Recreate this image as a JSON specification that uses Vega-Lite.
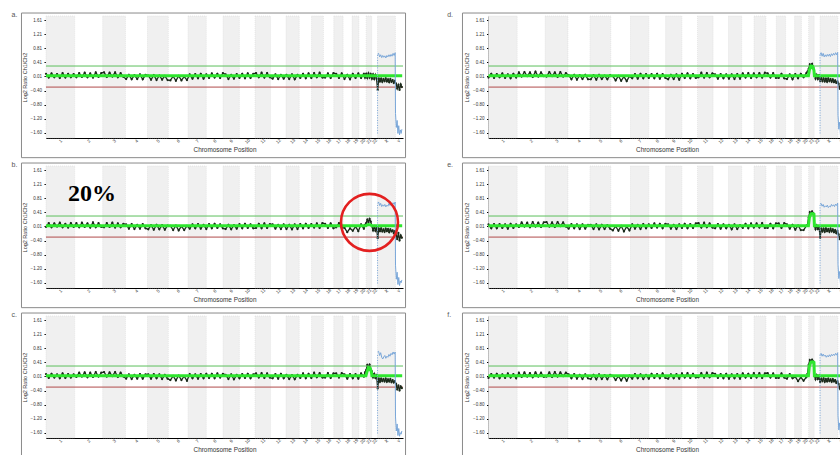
{
"$schema":"https://vega.github.io/schema/vega-lite/v6.json",
"padding":{"left":11,"top":11,"right":0,"bottom":0},
"bounds":"flush",
"columns":2,
"spacing":{"row":28,"column":85.5},
"datasets":{
"chroms":[{"c":"1","s":0,"e":249,"g":1},{"c":"2","s":249,"e":492,"g":0},{"c":"3","s":492,"e":690,"g":1},{"c":"4","s":690,"e":881,"g":0},{"c":"5","s":881,"e":1062,"g":1},{"c":"6","s":1062,"e":1233,"g":0},{"c":"7","s":1233,"e":1392,"g":1},{"c":"8","s":1392,"e":1538,"g":0},{"c":"9","s":1538,"e":1679,"g":1},{"c":"10","s":1679,"e":1815,"g":0},{"c":"11","s":1815,"e":1950,"g":1},{"c":"12","s":1950,"e":2084,"g":0},{"c":"13","s":2084,"e":2199,"g":1},{"c":"14","s":2199,"e":2306,"g":0},{"c":"15","s":2306,"e":2409,"g":1},{"c":"16","s":2409,"e":2499,"g":0},{"c":"17","s":2499,"e":2580,"g":1},{"c":"18","s":2580,"e":2658,"g":0},{"c":"19","s":2658,"e":2717,"g":1},{"c":"20","s":2717,"e":2780,"g":0},{"c":"21","s":2780,"e":2828,"g":1},{"c":"22","s":2828,"e":2879,"g":0},{"c":"X","s":2879,"e":3034,"g":1},{"c":"Y","s":3034,"e":3093,"g":0}],
"thr":[{"t":0.3,"k":"gain"},{"t":-0.3,"k":"loss"}],
"xline":[{"x":2879,"lo":-1.62,"hi":0.64}],
"notes":[{"kind":"label","t":"20%","x":399,"y":0.735},{"kind":"circle","t":"","x":2809,"y":0.12}],
"seg":[{"x":0,"a":0.02,"b":0.02,"c":0.02,"d":0.02,"e":0.02,"f":0.02},{"x":2778,"a":0.02,"b":0.02,"c":0.02,"d":0.02,"e":0.02,"f":0.02},{"x":2786,"a":0.02,"b":0.04,"c":0.12,"d":0.18,"e":0.25,"f":0.30},{"x":2800,"a":0.02,"b":0.06,"c":0.26,"d":0.30,"e":0.36,"f":0.41},{"x":2815,"a":0.02,"b":0.05,"c":0.24,"d":0.29,"e":0.37,"f":0.42},{"x":2826,"a":0.02,"b":0.03,"c":0.12,"d":0.18,"e":0.35,"f":0.40},{"x":2830,"a":0.02,"b":0.02,"c":0.02,"d":0.02,"e":0.02,"f":0.02},{"x":3093,"a":0.02,"b":0.02,"c":0.02,"d":0.02,"e":0.02,"f":0.02}],
"blue":[{"x":2879,"a":0.64,"b":0.66,"c":0.70,"d":0.62,"e":0.64,"f":0.62},{"x":2888,"a":0.66,"b":0.70,"c":0.72,"d":0.68,"e":0.66,"f":0.66},{"x":2897,"a":0.56,"b":0.60,"c":0.60,"d":0.58,"e":0.58,"f":0.58},{"x":2906,"a":0.62,"b":0.66,"c":0.68,"d":0.66,"e":0.63,"f":0.64},{"x":2915,"a":0.54,"b":0.57,"c":0.55,"d":0.56,"e":0.55,"f":0.58},{"x":2924,"a":0.60,"b":0.62,"c":0.50,"d":0.62,"e":0.59,"f":0.61},{"x":2933,"a":0.55,"b":0.58,"c":0.56,"d":0.57,"e":0.56,"f":0.55},{"x":2942,"a":0.59,"b":0.63,"c":0.60,"d":0.63,"e":0.61,"f":0.60},{"x":2951,"a":0.53,"b":0.56,"c":0.52,"d":0.58,"e":0.54,"f":0.56},{"x":2960,"a":0.60,"b":0.61,"c":0.58,"d":0.64,"e":0.58,"f":0.62},{"x":2969,"a":0.56,"b":0.58,"c":0.55,"d":0.57,"e":0.56,"f":0.57},{"x":2978,"a":0.62,"b":0.66,"c":0.63,"d":0.65,"e":0.63,"f":0.63},{"x":2987,"a":0.57,"b":0.60,"c":0.58,"d":0.60,"e":0.58,"f":0.59},{"x":2996,"a":0.63,"b":0.64,"c":0.66,"d":0.66,"e":0.62,"f":0.64},{"x":3005,"a":0.58,"b":0.61,"c":0.62,"d":0.61,"e":0.57,"f":0.60},{"x":3014,"a":0.66,"b":0.68,"c":0.70,"d":0.68,"e":0.64,"f":0.66},{"x":3023,"a":0.60,"b":0.63,"c":0.64,"d":0.62,"e":0.60,"f":0.61},{"x":3032,"a":0.68,"b":0.70,"c":0.70,"d":0.69,"e":0.67,"f":0.68},{"x":3035,"a":-1.05,"b":-1.10,"c":-1.15,"d":-1.10,"e":-1.08,"f":-1.12},{"x":3042,"a":-1.45,"b":-1.50,"c":-1.55,"d":-1.50,"e":-1.48,"f":-1.52},{"x":3049,"a":-1.25,"b":-1.30,"c":-1.35,"d":-1.30,"e":-1.28,"f":-1.32},{"x":3056,"a":-1.62,"b":-1.65,"c":-1.68,"d":-1.65,"e":-1.62,"f":-1.66},{"x":3063,"a":-1.40,"b":-1.45,"c":-1.48,"d":-1.45,"e":-1.42,"f":-1.46},{"x":3070,"a":-1.66,"b":-1.68,"c":-1.70,"d":-1.68,"e":-1.65,"f":-1.70},{"x":3077,"a":-1.52,"b":-1.55,"c":-1.60,"d":-1.56,"e":-1.54,"f":-1.58},{"x":3084,"a":-1.62,"b":-1.60,"c":-1.64,"d":-1.62,"e":-1.60,"f":-1.62},{"x":3090,"a":-1.50,"b":-1.52,"c":-1.55,"d":-1.52,"e":-1.50,"f":-1.52}],
"trace":[
{"x":0,"a":0.08,"b":-0.01,"c":0.07,"d":-0.03,"e":0.06,"f":-0.04},
{"x":24,"a":-0.03,"b":0.10,"c":-0.04,"d":0.08,"e":-0.05,"f":0.07},
{"x":48,"a":0.09,"b":-0.02,"c":0.08,"d":-0.04,"e":0.07,"f":-0.03},
{"x":72,"a":-0.02,"b":0.09,"c":-0.03,"d":0.07,"e":-0.05,"f":0.08},
{"x":96,"a":0.07,"b":0.00,"c":0.06,"d":-0.02,"e":0.07,"f":-0.05},
{"x":120,"a":-0.04,"b":0.11,"c":-0.05,"d":0.09,"e":-0.04,"f":0.06},
{"x":144,"a":0.10,"b":-0.02,"c":0.09,"d":-0.04,"e":0.06,"f":-0.04},
{"x":168,"a":-0.03,"b":0.08,"c":-0.04,"d":0.06,"e":-0.06,"f":0.09},
{"x":192,"a":0.08,"b":-0.03,"c":0.07,"d":-0.05,"e":0.08,"f":-0.03},
{"x":216,"a":-0.02,"b":0.10,"c":-0.03,"d":0.08,"e":-0.04,"f":0.07},
{"x":240,"a":0.07,"b":-0.01,"c":0.06,"d":-0.03,"e":0.06,"f":-0.05},
{"x":264,"a":-0.02,"b":0.10,"c":-0.01,"d":0.12,"e":-0.01,"f":0.11},
{"x":288,"a":0.10,"b":-0.02,"c":0.11,"d":0.00,"e":0.12,"f":-0.01},
{"x":312,"a":-0.01,"b":0.11,"c":0.00,"d":0.13,"e":0.00,"f":0.12},
{"x":336,"a":0.11,"b":-0.01,"c":0.12,"d":0.01,"e":0.11,"f":0.00},
{"x":360,"a":-0.02,"b":0.09,"c":-0.02,"d":0.12,"e":-0.02,"f":0.10},
{"x":384,"a":0.09,"b":-0.03,"c":0.11,"d":-0.01,"e":0.13,"f":-0.02},
{"x":408,"a":-0.03,"b":0.12,"c":-0.01,"d":0.14,"e":0.00,"f":0.12},
{"x":432,"a":0.12,"b":-0.02,"c":0.13,"d":0.00,"e":0.11,"f":0.00},
{"x":456,"a":-0.01,"b":0.10,"c":0.00,"d":0.12,"e":-0.01,"f":0.11},
{"x":480,"a":0.10,"b":-0.01,"c":0.11,"d":0.01,"e":0.12,"f":-0.01},
{"x":504,"a":0.12,"b":-0.02,"c":0.13,"d":0.00,"e":0.13,"f":0.00},
{"x":528,"a":-0.01,"b":0.10,"c":0.00,"d":0.13,"e":0.00,"f":0.12},
{"x":552,"a":0.11,"b":-0.01,"c":0.12,"d":0.01,"e":0.12,"f":-0.01},
{"x":576,"a":0.00,"b":0.11,"c":0.01,"d":0.12,"e":-0.01,"f":0.13},
{"x":600,"a":0.12,"b":-0.03,"c":0.13,"d":-0.01,"e":0.13,"f":0.00},
{"x":624,"a":-0.02,"b":0.09,"c":-0.01,"d":0.13,"e":0.01,"f":0.12},
{"x":648,"a":0.10,"b":-0.02,"c":0.11,"d":0.00,"e":0.12,"f":0.01},
{"x":672,"a":-0.01,"b":0.08,"c":0.00,"d":0.10,"e":0.00,"f":0.11},
{"x":696,"a":-0.07,"b":0.06,"c":-0.06,"d":0.04,"e":-0.06,"f":0.06},
{"x":720,"a":0.05,"b":-0.06,"c":0.06,"d":-0.08,"e":0.07,"f":-0.05},
{"x":744,"a":-0.08,"b":0.07,"c":-0.07,"d":0.05,"e":-0.05,"f":0.07},
{"x":768,"a":0.04,"b":-0.07,"c":0.05,"d":-0.09,"e":0.06,"f":-0.06},
{"x":792,"a":-0.07,"b":0.05,"c":-0.06,"d":0.04,"e":-0.07,"f":0.05},
{"x":816,"a":0.06,"b":-0.06,"c":0.07,"d":-0.07,"e":0.06,"f":-0.07},
{"x":840,"a":-0.08,"b":0.07,"c":-0.06,"d":0.05,"e":-0.06,"f":0.06},
{"x":864,"a":0.05,"b":-0.05,"c":0.06,"d":-0.08,"e":0.05,"f":-0.05},
{"x":888,"a":0.03,"b":-0.08,"c":0.06,"d":-0.08,"e":0.05,"f":-0.07},
{"x":912,"a":-0.09,"b":0.04,"c":-0.06,"d":0.04,"e":-0.07,"f":0.05},
{"x":936,"a":0.04,"b":-0.09,"c":0.07,"d":-0.09,"e":0.06,"f":-0.08},
{"x":960,"a":-0.10,"b":0.05,"c":-0.05,"d":0.05,"e":-0.08,"f":0.06},
{"x":984,"a":0.03,"b":-0.08,"c":0.06,"d":-0.07,"e":0.05,"f":-0.07},
{"x":1008,"a":-0.09,"b":0.04,"c":-0.07,"d":0.03,"e":-0.07,"f":0.04},
{"x":1032,"a":0.02,"b":-0.09,"c":0.05,"d":-0.08,"e":0.04,"f":-0.08},
{"x":1056,"a":-0.10,"b":0.03,"c":-0.06,"d":0.04,"e":-0.06,"f":0.05},
{"x":1080,"a":-0.11,"b":0.02,"c":-0.10,"d":0.01,"e":-0.11,"f":0.02},
{"x":1104,"a":0.01,"b":-0.10,"c":0.02,"d":-0.11,"e":0.01,"f":-0.10},
{"x":1128,"a":-0.12,"b":0.03,"c":-0.11,"d":0.02,"e":-0.12,"f":0.01},
{"x":1152,"a":0.02,"b":-0.11,"c":0.03,"d":-0.12,"e":0.02,"f":-0.11},
{"x":1176,"a":-0.11,"b":0.01,"c":-0.10,"d":0.00,"e":-0.14,"f":0.02},
{"x":1200,"a":0.00,"b":-0.10,"c":0.01,"d":-0.13,"e":0.00,"f":-0.12},
{"x":1224,"a":-0.10,"b":0.02,"c":-0.12,"d":0.01,"e":-0.11,"f":0.03},
{"x":1248,"a":0.06,"b":-0.06,"c":0.07,"d":-0.05,"e":0.06,"f":-0.06},
{"x":1272,"a":-0.06,"b":0.06,"c":-0.05,"d":0.07,"e":-0.06,"f":0.07},
{"x":1296,"a":0.07,"b":-0.05,"c":0.06,"d":-0.06,"e":0.05,"f":-0.05},
{"x":1320,"a":-0.05,"b":0.07,"c":-0.06,"d":0.08,"e":-0.07,"f":0.06},
{"x":1344,"a":0.08,"b":-0.06,"c":0.07,"d":-0.05,"e":0.07,"f":-0.07},
{"x":1368,"a":-0.06,"b":0.05,"c":-0.05,"d":0.07,"e":-0.05,"f":0.05},
{"x":1392,"a":0.06,"b":-0.07,"c":0.08,"d":-0.04,"e":0.06,"f":-0.06},
{"x":1416,"a":-0.04,"b":0.07,"c":-0.04,"d":0.07,"e":-0.04,"f":0.08},
{"x":1440,"a":0.09,"b":-0.05,"c":0.08,"d":-0.05,"e":0.09,"f":-0.04},
{"x":1464,"a":-0.03,"b":0.08,"c":-0.05,"d":0.08,"e":-0.03,"f":0.07},
{"x":1488,"a":0.08,"b":-0.04,"c":0.09,"d":-0.06,"e":0.08,"f":-0.05},
{"x":1512,"a":-0.04,"b":0.06,"c":-0.03,"d":0.07,"e":-0.05,"f":0.09},
{"x":1536,"a":0.10,"b":-0.05,"c":0.08,"d":-0.04,"e":0.08,"f":-0.04},
{"x":1560,"a":0.06,"b":-0.07,"c":0.05,"d":-0.08,"e":0.06,"f":-0.06},
{"x":1584,"a":-0.07,"b":0.05,"c":-0.07,"d":0.05,"e":-0.06,"f":0.06},
{"x":1608,"a":0.05,"b":-0.08,"c":0.06,"d":-0.07,"e":0.05,"f":-0.05},
{"x":1632,"a":-0.06,"b":0.04,"c":-0.08,"d":0.06,"e":-0.07,"f":0.07},
{"x":1656,"a":0.07,"b":-0.06,"c":0.05,"d":-0.09,"e":0.06,"f":-0.06},
{"x":1680,"a":-0.04,"b":0.07,"c":-0.05,"d":0.08,"e":-0.04,"f":0.09},
{"x":1704,"a":0.08,"b":-0.05,"c":0.07,"d":-0.04,"e":0.08,"f":-0.03},
{"x":1728,"a":-0.05,"b":0.08,"c":-0.04,"d":0.09,"e":-0.05,"f":0.10},
{"x":1752,"a":0.09,"b":-0.04,"c":0.08,"d":-0.05,"e":0.07,"f":-0.04},
{"x":1776,"a":-0.04,"b":0.06,"c":-0.05,"d":0.07,"e":-0.04,"f":0.08},
{"x":1800,"a":0.08,"b":-0.05,"c":0.06,"d":-0.04,"e":0.09,"f":-0.03},
{"x":1824,"a":0.10,"b":-0.04,"c":0.09,"d":-0.02,"e":0.10,"f":-0.02},
{"x":1848,"a":-0.02,"b":0.08,"c":-0.03,"d":0.11,"e":-0.03,"f":0.10},
{"x":1872,"a":0.11,"b":-0.05,"c":0.10,"d":-0.03,"e":0.11,"f":-0.03},
{"x":1896,"a":-0.03,"b":0.09,"c":-0.04,"d":0.10,"e":-0.02,"f":0.11},
{"x":1920,"a":0.10,"b":-0.04,"c":0.09,"d":-0.02,"e":0.09,"f":-0.02},
{"x":1944,"a":-0.02,"b":0.07,"c":-0.03,"d":0.09,"e":-0.03,"f":0.10},
{"x":1968,"a":-0.06,"b":0.06,"c":-0.05,"d":0.06,"e":-0.05,"f":0.08},
{"x":1992,"a":0.06,"b":-0.06,"c":0.07,"d":-0.06,"e":0.07,"f":-0.04},
{"x":2016,"a":-0.07,"b":0.05,"c":-0.06,"d":0.07,"e":-0.06,"f":0.07},
{"x":2040,"a":0.05,"b":-0.07,"c":0.08,"d":-0.05,"e":0.06,"f":-0.05},
{"x":2064,"a":-0.06,"b":0.06,"c":-0.05,"d":0.06,"e":-0.05,"f":0.08},
{"x":2088,"a":0.05,"b":-0.07,"c":0.05,"d":-0.06,"e":0.05,"f":-0.06},
{"x":2112,"a":-0.07,"b":0.05,"c":-0.07,"d":0.06,"e":-0.08,"f":0.06},
{"x":2136,"a":0.06,"b":-0.08,"c":0.04,"d":-0.07,"e":0.06,"f":-0.05},
{"x":2160,"a":-0.08,"b":0.06,"c":-0.08,"d":0.07,"e":-0.07,"f":0.07},
{"x":2184,"a":0.05,"b":-0.07,"c":0.05,"d":-0.06,"e":0.04,"f":-0.06},
{"x":2208,"a":-0.04,"b":0.07,"c":-0.04,"d":0.09,"e":-0.04,"f":0.09},
{"x":2232,"a":0.08,"b":-0.05,"c":0.09,"d":-0.03,"e":0.08,"f":-0.03},
{"x":2256,"a":-0.05,"b":0.08,"c":-0.05,"d":0.10,"e":-0.05,"f":0.08},
{"x":2280,"a":0.09,"b":-0.04,"c":0.08,"d":-0.04,"e":0.09,"f":-0.04},
{"x":2304,"a":-0.04,"b":0.07,"c":-0.04,"d":0.09,"e":-0.03,"f":0.10},
{"x":2328,"a":0.10,"b":-0.03,"c":0.11,"d":-0.02,"e":0.09,"f":-0.03},
{"x":2352,"a":-0.02,"b":0.09,"c":-0.02,"d":0.10,"e":-0.03,"f":0.10},
{"x":2376,"a":0.11,"b":-0.04,"c":0.10,"d":-0.03,"e":0.10,"f":-0.04},
{"x":2400,"a":-0.03,"b":0.10,"c":-0.03,"d":0.11,"e":-0.04,"f":0.09},
{"x":2424,"a":-0.03,"b":0.08,"c":-0.03,"d":0.09,"e":-0.04,"f":0.10},
{"x":2448,"a":0.09,"b":-0.04,"c":0.10,"d":-0.03,"e":0.08,"f":-0.03},
{"x":2472,"a":-0.04,"b":0.09,"c":-0.04,"d":0.10,"e":-0.05,"f":0.09},
{"x":2496,"a":0.10,"b":-0.05,"c":0.09,"d":-0.04,"e":0.09,"f":-0.04},
{"x":2520,"a":0.08,"b":-0.02,"c":0.09,"d":-0.04,"e":0.09,"f":-0.04},
{"x":2544,"a":-0.04,"b":0.10,"c":-0.03,"d":0.08,"e":-0.04,"f":0.09},
{"x":2568,"a":0.09,"b":-0.03,"c":0.10,"d":-0.05,"e":0.10,"f":-0.03},
{"x":2592,"a":-0.07,"b":-0.04,"c":0.06,"d":-0.07,"e":0.06,"f":-0.06},
{"x":2616,"a":0.05,"b":-0.16,"c":-0.06,"d":0.06,"e":-0.06,"f":0.07},
{"x":2640,"a":-0.08,"b":-0.05,"c":0.07,"d":-0.08,"e":0.05,"f":-0.05},
{"x":2664,"a":0.08,"b":-0.12,"c":-0.05,"d":0.07,"e":-0.09,"f":-0.01},
{"x":2688,"a":-0.04,"b":0.00,"c":0.07,"d":-0.05,"e":0.03,"f":-0.13},
{"x":2712,"a":0.09,"b":-0.13,"c":-0.06,"d":0.08,"e":-0.10,"f":-0.02},
{"x":2736,"a":-0.04,"b":0.06,"c":0.09,"d":-0.02,"e":-0.10,"f":-0.12},
{"x":2760,"a":0.08,"b":-0.06,"c":0.00,"d":0.10,"e":0.02,"f":-0.02},
{"x":2770,"a":-0.03,"b":0.05,"c":0.12,"d":0.14,"e":0.05,"f":0.08},
{"x":2780,"a":0.08,"b":0.10,"c":0.18,"d":0.22,"e":0.26,"f":0.33},
{"x":2790,"a":-0.04,"b":0.20,"c":0.33,"d":0.35,"e":0.41,"f":0.47},
{"x":2800,"a":0.09,"b":0.12,"c":0.27,"d":0.30,"e":0.36,"f":0.41},
{"x":2810,"a":-0.03,"b":0.22,"c":0.34,"d":0.36,"e":0.43,"f":0.48},
{"x":2820,"a":0.07,"b":0.14,"c":0.20,"d":0.26,"e":0.38,"f":0.43},
{"x":2830,"a":-0.06,"b":0.01,"c":0.15,"d":0.08,"e":0.02,"f":0.03},
{"x":2840,"a":0.06,"b":-0.11,"c":-0.02,"d":-0.06,"e":-0.08,"f":-0.08},
{"x":2850,"a":-0.07,"b":0.00,"c":0.08,"d":0.05,"e":0.03,"f":0.04},
{"x":2860,"a":0.05,"b":-0.12,"c":-0.04,"d":-0.07,"e":-0.07,"f":-0.07},
{"x":2870,"a":-0.06,"b":-0.02,"c":0.05,"d":0.04,"e":-0.01,"f":0.02},
{"x":2880,"a":-0.38,"b":-0.33,"c":-0.34,"d":-0.12,"e":-0.32,"f":-0.16},
{"x":2890,"a":-0.05,"b":-0.06,"c":-0.05,"d":-0.04,"e":-0.05,"f":-0.06},
{"x":2900,"a":-0.14,"b":-0.13,"c":-0.15,"d":-0.13,"e":-0.14,"f":-0.13},
{"x":2910,"a":-0.06,"b":-0.05,"c":-0.06,"d":-0.05,"e":-0.06,"f":-0.05},
{"x":2920,"a":-0.15,"b":-0.14,"c":-0.13,"d":-0.14,"e":-0.15,"f":-0.15},
{"x":2930,"a":-0.07,"b":-0.08,"c":-0.07,"d":-0.06,"e":-0.05,"f":-0.07},
{"x":2940,"a":-0.13,"b":-0.15,"c":-0.14,"d":-0.15,"e":-0.13,"f":-0.14},
{"x":2950,"a":-0.05,"b":-0.06,"c":-0.06,"d":-0.05,"e":-0.07,"f":-0.06},
{"x":2960,"a":-0.14,"b":-0.13,"c":-0.15,"d":-0.13,"e":-0.15,"f":-0.13},
{"x":2970,"a":-0.08,"b":-0.07,"c":-0.08,"d":-0.07,"e":-0.06,"f":-0.08},
{"x":2980,"a":-0.16,"b":-0.16,"c":-0.14,"d":-0.15,"e":-0.14,"f":-0.15},
{"x":2990,"a":-0.07,"b":-0.08,"c":-0.07,"d":-0.08,"e":-0.08,"f":-0.07},
{"x":3000,"a":-0.15,"b":-0.14,"c":-0.16,"d":-0.16,"e":-0.16,"f":-0.14},
{"x":3010,"a":-0.10,"b":-0.11,"c":-0.10,"d":-0.11,"e":-0.10,"f":-0.10},
{"x":3020,"a":-0.18,"b":-0.19,"c":-0.17,"d":-0.18,"e":-0.19,"f":-0.18},
{"x":3030,"a":-0.12,"b":-0.13,"c":-0.13,"d":-0.14,"e":-0.12,"f":-0.13},
{"x":3040,"a":-0.20,"b":-0.22,"c":-0.21,"d":-0.20,"e":-0.22,"f":-0.21},
{"x":3050,"a":-0.34,"b":-0.36,"c":-0.37,"d":-0.35,"e":-0.36,"f":-0.34},
{"x":3060,"a":-0.24,"b":-0.18,"c":-0.25,"d":-0.23,"e":-0.24,"f":-0.25},
{"x":3070,"a":-0.38,"b":-0.40,"c":-0.40,"d":-0.38,"e":-0.39,"f":-0.40},
{"x":3080,"a":-0.22,"b":-0.25,"c":-0.28,"d":-0.26,"e":-0.27,"f":-0.24},
{"x":3090,"a":-0.30,"b":-0.32,"c":-0.33,"d":-0.31,"e":-0.32,"f":-0.30}
]
},
"concat":[
{"width":357,"height":122,
"title":{"text":"a.","anchor":"start","frame":"group","offset":0,"dx":-34.5,"dy":11.7,"baseline":"alphabetic","fontSize":7,"fontWeight":"normal","color":"#555","font":"Liberation Sans"},
"layer":[
{"data":{"name":"chroms"},"transform":[{"filter":"datum.g == 1"}],"mark":{"type":"rect","fill":"#f0f0f0","stroke":"#d4d4d4","strokeWidth":0.5,"strokeDash":[1,1]},"encoding":{"x":{"field":"s","type":"quantitative","scale":{"domain":[0,3100],"nice":false,"zero":false},"axis":{"values":[124.5,370.5,591,785.5,971.5,1147.5,1312.5,1465,1608.5,1747,1882.5,2017,2141.5,2252.5,2357.5,2454,2539.5,2619,2687.5,2748.5,2804,2853.5,2956.5,3063.5],"tickCount":60,"labelExpr":"['1','2','3','4','5','6','7','8','9','10','11','12','13','14','15','16','17','18','19','20','21','22','X','Y'][indexof([124.5,370.5,591,785.5,971.5,1147.5,1312.5,1465,1608.5,1747,1882.5,2017,2141.5,2252.5,2357.5,2454,2539.5,2619,2687.5,2748.5,2804,2853.5,2956.5,3063.5],datum.value)]","labelOverlap":false,"labelFlush":false,"title":"Chromosome Position"}},"x2":{"field":"e"}}},
{"data":{"values":[{}]},"mark":{"type":"rect","fill":"transparent","stroke":"#8a8a8a","strokeWidth":1},"encoding":{"x":{"datum":-213,"type":"quantitative"},"x2":{"datum":3122},"y":{"datum":1.81,"type":"quantitative","scale":{"domain":[-1.75,1.725],"nice":false,"zero":false}},"y2":{"datum":-2.31}}},
{"data":{"name":"thr"},"transform":[{"filter":"datum.k == 'loss'"}],"mark":{"type":"rule","strokeWidth":1,"stroke":"#b04a4a"},"encoding":{"y":{"field":"t","type":"quantitative","axis":{"values":[1.61,1.21,0.81,0.41,0.01,-0.4,-0.8,-1.2,-1.6],"tickCount":60,"format":".2f","labelOverlap":false,"labelFlush":false,"title":"Log2 Ratio Ch1/Ch2"}}}},
{"data":{"name":"trace"},"mark":{"type":"line","color":"#1b2a1b","strokeWidth":1.3},"encoding":{"x":{"field":"x","type":"quantitative"},"y":{"field":"a","type":"quantitative"}}},
{"data":{"name":"trace"},"mark":{"type":"point","filled":true,"size":5,"color":"#1b2a1b","opacity":1},"encoding":{"x":{"field":"x","type":"quantitative"},"y":{"field":"a","type":"quantitative"}}},
{"data":{"name":"thr"},"transform":[{"filter":"datum.k == 'gain'"}],"mark":{"type":"rule","strokeWidth":1,"stroke":"#5cbf5c"},"encoding":{"y":{"field":"t","type":"quantitative"}}},
{"data":{"name":"seg"},"mark":{"type":"line","color":"#2ee62e","strokeWidth":3},"encoding":{"x":{"field":"x","type":"quantitative"},"y":{"field":"a","type":"quantitative"}}},
{"data":{"name":"blue"},"mark":{"type":"line","color":"#7aa7d9","strokeWidth":1},"encoding":{"x":{"field":"x","type":"quantitative"},"y":{"field":"a","type":"quantitative"}}},
{"data":{"name":"xline"},"mark":{"type":"rule","color":"#7aa7d9","strokeWidth":1,"strokeDash":[1,1.5]},"encoding":{"x":{"field":"x","type":"quantitative"},"y":{"field":"lo","type":"quantitative"},"y2":{"field":"hi"}}}
]},
{"width":357,"height":122,
"title":{"text":"d.","anchor":"start","frame":"group","offset":0,"dx":-41.3,"dy":11.7,"baseline":"alphabetic","fontSize":7,"fontWeight":"normal","color":"#555","font":"Liberation Sans"},
"layer":[
{"data":{"name":"chroms"},"transform":[{"filter":"datum.g == 1"}],"mark":{"type":"rect","fill":"#f0f0f0","stroke":"#d4d4d4","strokeWidth":0.5,"strokeDash":[1,1]},"encoding":{"x":{"field":"s","type":"quantitative","scale":{"domain":[0,3100],"nice":false,"zero":false},"axis":{"values":[124.5,370.5,591,785.5,971.5,1147.5,1312.5,1465,1608.5,1747,1882.5,2017,2141.5,2252.5,2357.5,2454,2539.5,2619,2687.5,2748.5,2804,2853.5,2956.5,3063.5],"tickCount":60,"labelExpr":"['1','2','3','4','5','6','7','8','9','10','11','12','13','14','15','16','17','18','19','20','21','22','X','Y'][indexof([124.5,370.5,591,785.5,971.5,1147.5,1312.5,1465,1608.5,1747,1882.5,2017,2141.5,2252.5,2357.5,2454,2539.5,2619,2687.5,2748.5,2804,2853.5,2956.5,3063.5],datum.value)]","labelOverlap":false,"labelFlush":false,"title":"Chromosome Position"}},"x2":{"field":"e"}}},
{"data":{"values":[{}]},"mark":{"type":"rect","fill":"transparent","stroke":"#8a8a8a","strokeWidth":1},"encoding":{"x":{"datum":-226,"type":"quantitative"},"x2":{"datum":3122},"y":{"datum":1.81,"type":"quantitative","scale":{"domain":[-1.75,1.725],"nice":false,"zero":false}},"y2":{"datum":-2.31}}},
{"data":{"name":"thr"},"transform":[{"filter":"datum.k == 'loss'"}],"mark":{"type":"rule","strokeWidth":1,"stroke":"#b04a4a"},"encoding":{"y":{"field":"t","type":"quantitative","axis":{"values":[1.61,1.21,0.81,0.41,0.01,-0.4,-0.8,-1.2,-1.6],"tickCount":60,"format":".2f","labelOverlap":false,"labelFlush":false,"title":"Log2 Ratio Ch1/Ch2"}}}},
{"data":{"name":"trace"},"mark":{"type":"line","color":"#1b2a1b","strokeWidth":1.3},"encoding":{"x":{"field":"x","type":"quantitative"},"y":{"field":"d","type":"quantitative"}}},
{"data":{"name":"trace"},"mark":{"type":"point","filled":true,"size":5,"color":"#1b2a1b","opacity":1},"encoding":{"x":{"field":"x","type":"quantitative"},"y":{"field":"d","type":"quantitative"}}},
{"data":{"name":"thr"},"transform":[{"filter":"datum.k == 'gain'"}],"mark":{"type":"rule","strokeWidth":1,"stroke":"#5cbf5c"},"encoding":{"y":{"field":"t","type":"quantitative"}}},
{"data":{"name":"seg"},"mark":{"type":"line","color":"#2ee62e","strokeWidth":3},"encoding":{"x":{"field":"x","type":"quantitative"},"y":{"field":"d","type":"quantitative"}}},
{"data":{"name":"blue"},"mark":{"type":"line","color":"#7aa7d9","strokeWidth":1},"encoding":{"x":{"field":"x","type":"quantitative"},"y":{"field":"d","type":"quantitative"}}},
{"data":{"name":"xline"},"mark":{"type":"rule","color":"#7aa7d9","strokeWidth":1,"strokeDash":[1,1.5]},"encoding":{"x":{"field":"x","type":"quantitative"},"y":{"field":"lo","type":"quantitative"},"y2":{"field":"hi"}}}
]},
{"width":357,"height":122,
"title":{"text":"b.","anchor":"start","frame":"group","offset":0,"dx":-34.5,"dy":11.7,"baseline":"alphabetic","fontSize":7,"fontWeight":"normal","color":"#555","font":"Liberation Sans"},
"layer":[
{"data":{"name":"chroms"},"transform":[{"filter":"datum.g == 1"}],"mark":{"type":"rect","fill":"#f0f0f0","stroke":"#d4d4d4","strokeWidth":0.5,"strokeDash":[1,1]},"encoding":{"x":{"field":"s","type":"quantitative","scale":{"domain":[0,3100],"nice":false,"zero":false},"axis":{"values":[124.5,370.5,591,785.5,971.5,1147.5,1312.5,1465,1608.5,1747,1882.5,2017,2141.5,2252.5,2357.5,2454,2539.5,2619,2687.5,2748.5,2804,2853.5,2956.5,3063.5],"tickCount":60,"labelExpr":"['1','2','3','4','5','6','7','8','9','10','11','12','13','14','15','16','17','18','19','20','21','22','X','Y'][indexof([124.5,370.5,591,785.5,971.5,1147.5,1312.5,1465,1608.5,1747,1882.5,2017,2141.5,2252.5,2357.5,2454,2539.5,2619,2687.5,2748.5,2804,2853.5,2956.5,3063.5],datum.value)]","labelOverlap":false,"labelFlush":false,"title":"Chromosome Position"}},"x2":{"field":"e"}}},
{"data":{"values":[{}]},"mark":{"type":"rect","fill":"transparent","stroke":"#8a8a8a","strokeWidth":1},"encoding":{"x":{"datum":-213,"type":"quantitative"},"x2":{"datum":3122},"y":{"datum":1.81,"type":"quantitative","scale":{"domain":[-1.75,1.725],"nice":false,"zero":false}},"y2":{"datum":-2.31}}},
{"data":{"name":"thr"},"transform":[{"filter":"datum.k == 'loss'"}],"mark":{"type":"rule","strokeWidth":1,"stroke":"#b04a4a"},"encoding":{"y":{"field":"t","type":"quantitative","axis":{"values":[1.61,1.21,0.81,0.41,0.01,-0.4,-0.8,-1.2,-1.6],"tickCount":60,"format":".2f","labelOverlap":false,"labelFlush":false,"title":"Log2 Ratio Ch1/Ch2"}}}},
{"data":{"name":"trace"},"mark":{"type":"line","color":"#1b2a1b","strokeWidth":1.3},"encoding":{"x":{"field":"x","type":"quantitative"},"y":{"field":"b","type":"quantitative"}}},
{"data":{"name":"trace"},"mark":{"type":"point","filled":true,"size":5,"color":"#1b2a1b","opacity":1},"encoding":{"x":{"field":"x","type":"quantitative"},"y":{"field":"b","type":"quantitative"}}},
{"data":{"name":"thr"},"transform":[{"filter":"datum.k == 'gain'"}],"mark":{"type":"rule","strokeWidth":1,"stroke":"#5cbf5c"},"encoding":{"y":{"field":"t","type":"quantitative"}}},
{"data":{"name":"seg"},"mark":{"type":"line","color":"#2ee62e","strokeWidth":3},"encoding":{"x":{"field":"x","type":"quantitative"},"y":{"field":"b","type":"quantitative"}}},
{"data":{"name":"blue"},"mark":{"type":"line","color":"#7aa7d9","strokeWidth":1},"encoding":{"x":{"field":"x","type":"quantitative"},"y":{"field":"b","type":"quantitative"}}},
{"data":{"name":"xline"},"mark":{"type":"rule","color":"#7aa7d9","strokeWidth":1,"strokeDash":[1,1.5]},"encoding":{"x":{"field":"x","type":"quantitative"},"y":{"field":"lo","type":"quantitative"},"y2":{"field":"hi"}}},
{"data":{"name":"notes"},"transform":[{"filter":"datum.kind == 'label'"}],"mark":{"type":"text","font":"Liberation Serif","fontSize":24,"fontWeight":"bold","color":"#000","align":"center","baseline":"alphabetic"},"encoding":{"x":{"field":"x","type":"quantitative"},"y":{"field":"y","type":"quantitative"},"text":{"field":"t"}}},
{"data":{"name":"notes"},"transform":[{"filter":"datum.kind == 'circle'"}],"mark":{"type":"point","shape":"circle","filled":false,"size":3249,"color":"#e32020","strokeWidth":2.6,"opacity":1},"encoding":{"x":{"field":"x","type":"quantitative"},"y":{"field":"y","type":"quantitative"}}}
]},
{"width":357,"height":122,
"title":{"text":"e.","anchor":"start","frame":"group","offset":0,"dx":-41.3,"dy":11.7,"baseline":"alphabetic","fontSize":7,"fontWeight":"normal","color":"#555","font":"Liberation Sans"},
"layer":[
{"data":{"name":"chroms"},"transform":[{"filter":"datum.g == 1"}],"mark":{"type":"rect","fill":"#f0f0f0","stroke":"#d4d4d4","strokeWidth":0.5,"strokeDash":[1,1]},"encoding":{"x":{"field":"s","type":"quantitative","scale":{"domain":[0,3100],"nice":false,"zero":false},"axis":{"values":[124.5,370.5,591,785.5,971.5,1147.5,1312.5,1465,1608.5,1747,1882.5,2017,2141.5,2252.5,2357.5,2454,2539.5,2619,2687.5,2748.5,2804,2853.5,2956.5,3063.5],"tickCount":60,"labelExpr":"['1','2','3','4','5','6','7','8','9','10','11','12','13','14','15','16','17','18','19','20','21','22','X','Y'][indexof([124.5,370.5,591,785.5,971.5,1147.5,1312.5,1465,1608.5,1747,1882.5,2017,2141.5,2252.5,2357.5,2454,2539.5,2619,2687.5,2748.5,2804,2853.5,2956.5,3063.5],datum.value)]","labelOverlap":false,"labelFlush":false,"title":"Chromosome Position"}},"x2":{"field":"e"}}},
{"data":{"values":[{}]},"mark":{"type":"rect","fill":"transparent","stroke":"#8a8a8a","strokeWidth":1},"encoding":{"x":{"datum":-226,"type":"quantitative"},"x2":{"datum":3122},"y":{"datum":1.81,"type":"quantitative","scale":{"domain":[-1.75,1.725],"nice":false,"zero":false}},"y2":{"datum":-2.31}}},
{"data":{"name":"thr"},"transform":[{"filter":"datum.k == 'loss'"}],"mark":{"type":"rule","strokeWidth":1,"stroke":"#b04a4a"},"encoding":{"y":{"field":"t","type":"quantitative","axis":{"values":[1.61,1.21,0.81,0.41,0.01,-0.4,-0.8,-1.2,-1.6],"tickCount":60,"format":".2f","labelOverlap":false,"labelFlush":false,"title":"Log2 Ratio Ch1/Ch2"}}}},
{"data":{"name":"trace"},"mark":{"type":"line","color":"#1b2a1b","strokeWidth":1.3},"encoding":{"x":{"field":"x","type":"quantitative"},"y":{"field":"e","type":"quantitative"}}},
{"data":{"name":"trace"},"mark":{"type":"point","filled":true,"size":5,"color":"#1b2a1b","opacity":1},"encoding":{"x":{"field":"x","type":"quantitative"},"y":{"field":"e","type":"quantitative"}}},
{"data":{"name":"thr"},"transform":[{"filter":"datum.k == 'gain'"}],"mark":{"type":"rule","strokeWidth":1,"stroke":"#5cbf5c"},"encoding":{"y":{"field":"t","type":"quantitative"}}},
{"data":{"name":"seg"},"mark":{"type":"line","color":"#2ee62e","strokeWidth":3},"encoding":{"x":{"field":"x","type":"quantitative"},"y":{"field":"e","type":"quantitative"}}},
{"data":{"name":"blue"},"mark":{"type":"line","color":"#7aa7d9","strokeWidth":1},"encoding":{"x":{"field":"x","type":"quantitative"},"y":{"field":"e","type":"quantitative"}}},
{"data":{"name":"xline"},"mark":{"type":"rule","color":"#7aa7d9","strokeWidth":1,"strokeDash":[1,1.5]},"encoding":{"x":{"field":"x","type":"quantitative"},"y":{"field":"lo","type":"quantitative"},"y2":{"field":"hi"}}}
]},
{"width":357,"height":122,
"title":{"text":"c.","anchor":"start","frame":"group","offset":0,"dx":-34.5,"dy":11.7,"baseline":"alphabetic","fontSize":7,"fontWeight":"normal","color":"#555","font":"Liberation Sans"},
"layer":[
{"data":{"name":"chroms"},"transform":[{"filter":"datum.g == 1"}],"mark":{"type":"rect","fill":"#f0f0f0","stroke":"#d4d4d4","strokeWidth":0.5,"strokeDash":[1,1]},"encoding":{"x":{"field":"s","type":"quantitative","scale":{"domain":[0,3100],"nice":false,"zero":false},"axis":{"values":[124.5,370.5,591,785.5,971.5,1147.5,1312.5,1465,1608.5,1747,1882.5,2017,2141.5,2252.5,2357.5,2454,2539.5,2619,2687.5,2748.5,2804,2853.5,2956.5,3063.5],"tickCount":60,"labelExpr":"['1','2','3','4','5','6','7','8','9','10','11','12','13','14','15','16','17','18','19','20','21','22','X','Y'][indexof([124.5,370.5,591,785.5,971.5,1147.5,1312.5,1465,1608.5,1747,1882.5,2017,2141.5,2252.5,2357.5,2454,2539.5,2619,2687.5,2748.5,2804,2853.5,2956.5,3063.5],datum.value)]","labelOverlap":false,"labelFlush":false,"title":"Chromosome Position"}},"x2":{"field":"e"}}},
{"data":{"values":[{}]},"mark":{"type":"rect","fill":"transparent","stroke":"#8a8a8a","strokeWidth":1},"encoding":{"x":{"datum":-213,"type":"quantitative"},"x2":{"datum":3122},"y":{"datum":1.81,"type":"quantitative","scale":{"domain":[-1.75,1.725],"nice":false,"zero":false}},"y2":{"datum":-2.31}}},
{"data":{"name":"thr"},"transform":[{"filter":"datum.k == 'loss'"}],"mark":{"type":"rule","strokeWidth":1,"stroke":"#b04a4a"},"encoding":{"y":{"field":"t","type":"quantitative","axis":{"values":[1.61,1.21,0.81,0.41,0.01,-0.4,-0.8,-1.2,-1.6],"tickCount":60,"format":".2f","labelOverlap":false,"labelFlush":false,"title":"Log2 Ratio Ch1/Ch2"}}}},
{"data":{"name":"trace"},"mark":{"type":"line","color":"#1b2a1b","strokeWidth":1.3},"encoding":{"x":{"field":"x","type":"quantitative"},"y":{"field":"c","type":"quantitative"}}},
{"data":{"name":"trace"},"mark":{"type":"point","filled":true,"size":5,"color":"#1b2a1b","opacity":1},"encoding":{"x":{"field":"x","type":"quantitative"},"y":{"field":"c","type":"quantitative"}}},
{"data":{"name":"thr"},"transform":[{"filter":"datum.k == 'gain'"}],"mark":{"type":"rule","strokeWidth":1,"stroke":"#5cbf5c"},"encoding":{"y":{"field":"t","type":"quantitative"}}},
{"data":{"name":"seg"},"mark":{"type":"line","color":"#2ee62e","strokeWidth":3},"encoding":{"x":{"field":"x","type":"quantitative"},"y":{"field":"c","type":"quantitative"}}},
{"data":{"name":"blue"},"mark":{"type":"line","color":"#7aa7d9","strokeWidth":1},"encoding":{"x":{"field":"x","type":"quantitative"},"y":{"field":"c","type":"quantitative"}}},
{"data":{"name":"xline"},"mark":{"type":"rule","color":"#7aa7d9","strokeWidth":1,"strokeDash":[1,1.5]},"encoding":{"x":{"field":"x","type":"quantitative"},"y":{"field":"lo","type":"quantitative"},"y2":{"field":"hi"}}}
]},
{"width":357,"height":122,
"title":{"text":"f.","anchor":"start","frame":"group","offset":0,"dx":-41.3,"dy":11.7,"baseline":"alphabetic","fontSize":7,"fontWeight":"normal","color":"#555","font":"Liberation Sans"},
"layer":[
{"data":{"name":"chroms"},"transform":[{"filter":"datum.g == 1"}],"mark":{"type":"rect","fill":"#f0f0f0","stroke":"#d4d4d4","strokeWidth":0.5,"strokeDash":[1,1]},"encoding":{"x":{"field":"s","type":"quantitative","scale":{"domain":[0,3100],"nice":false,"zero":false},"axis":{"values":[124.5,370.5,591,785.5,971.5,1147.5,1312.5,1465,1608.5,1747,1882.5,2017,2141.5,2252.5,2357.5,2454,2539.5,2619,2687.5,2748.5,2804,2853.5,2956.5,3063.5],"tickCount":60,"labelExpr":"['1','2','3','4','5','6','7','8','9','10','11','12','13','14','15','16','17','18','19','20','21','22','X','Y'][indexof([124.5,370.5,591,785.5,971.5,1147.5,1312.5,1465,1608.5,1747,1882.5,2017,2141.5,2252.5,2357.5,2454,2539.5,2619,2687.5,2748.5,2804,2853.5,2956.5,3063.5],datum.value)]","labelOverlap":false,"labelFlush":false,"title":"Chromosome Position"}},"x2":{"field":"e"}}},
{"data":{"values":[{}]},"mark":{"type":"rect","fill":"transparent","stroke":"#8a8a8a","strokeWidth":1},"encoding":{"x":{"datum":-226,"type":"quantitative"},"x2":{"datum":3122},"y":{"datum":1.81,"type":"quantitative","scale":{"domain":[-1.75,1.725],"nice":false,"zero":false}},"y2":{"datum":-2.31}}},
{"data":{"name":"thr"},"transform":[{"filter":"datum.k == 'loss'"}],"mark":{"type":"rule","strokeWidth":1,"stroke":"#b04a4a"},"encoding":{"y":{"field":"t","type":"quantitative","axis":{"values":[1.61,1.21,0.81,0.41,0.01,-0.4,-0.8,-1.2,-1.6],"tickCount":60,"format":".2f","labelOverlap":false,"labelFlush":false,"title":"Log2 Ratio Ch1/Ch2"}}}},
{"data":{"name":"trace"},"mark":{"type":"line","color":"#1b2a1b","strokeWidth":1.3},"encoding":{"x":{"field":"x","type":"quantitative"},"y":{"field":"f","type":"quantitative"}}},
{"data":{"name":"trace"},"mark":{"type":"point","filled":true,"size":5,"color":"#1b2a1b","opacity":1},"encoding":{"x":{"field":"x","type":"quantitative"},"y":{"field":"f","type":"quantitative"}}},
{"data":{"name":"thr"},"transform":[{"filter":"datum.k == 'gain'"}],"mark":{"type":"rule","strokeWidth":1,"stroke":"#5cbf5c"},"encoding":{"y":{"field":"t","type":"quantitative"}}},
{"data":{"name":"seg"},"mark":{"type":"line","color":"#2ee62e","strokeWidth":3},"encoding":{"x":{"field":"x","type":"quantitative"},"y":{"field":"f","type":"quantitative"}}},
{"data":{"name":"blue"},"mark":{"type":"line","color":"#7aa7d9","strokeWidth":1},"encoding":{"x":{"field":"x","type":"quantitative"},"y":{"field":"f","type":"quantitative"}}},
{"data":{"name":"xline"},"mark":{"type":"rule","color":"#7aa7d9","strokeWidth":1,"strokeDash":[1,1.5]},"encoding":{"x":{"field":"x","type":"quantitative"},"y":{"field":"lo","type":"quantitative"},"y2":{"field":"hi"}}}
]}
],
"config":{
"view":{"stroke":null},
"axis":{"domainColor":"#000","domainWidth":1,"grid":false,"labelFont":"Liberation Sans","titleFont":"Liberation Sans","labelColor":"#333","titleColor":"#333","titleFontWeight":"normal","labelOverlap":false,"labelFlush":false},
"axisX":{"ticks":false,"tickSize":0,"labelFontSize":4.5,"labelAngle":-45,"labelPadding":3,"labelAlign":"center","labelBaseline":"middle","titleFontSize":6.4,"titlePadding":3},
"axisY":{"ticks":true,"tickSize":2,"tickColor":"#000","labelFontSize":4.5,"labelPadding":2.5,"titleFontSize":5.5,"titlePadding":3}
}
}
